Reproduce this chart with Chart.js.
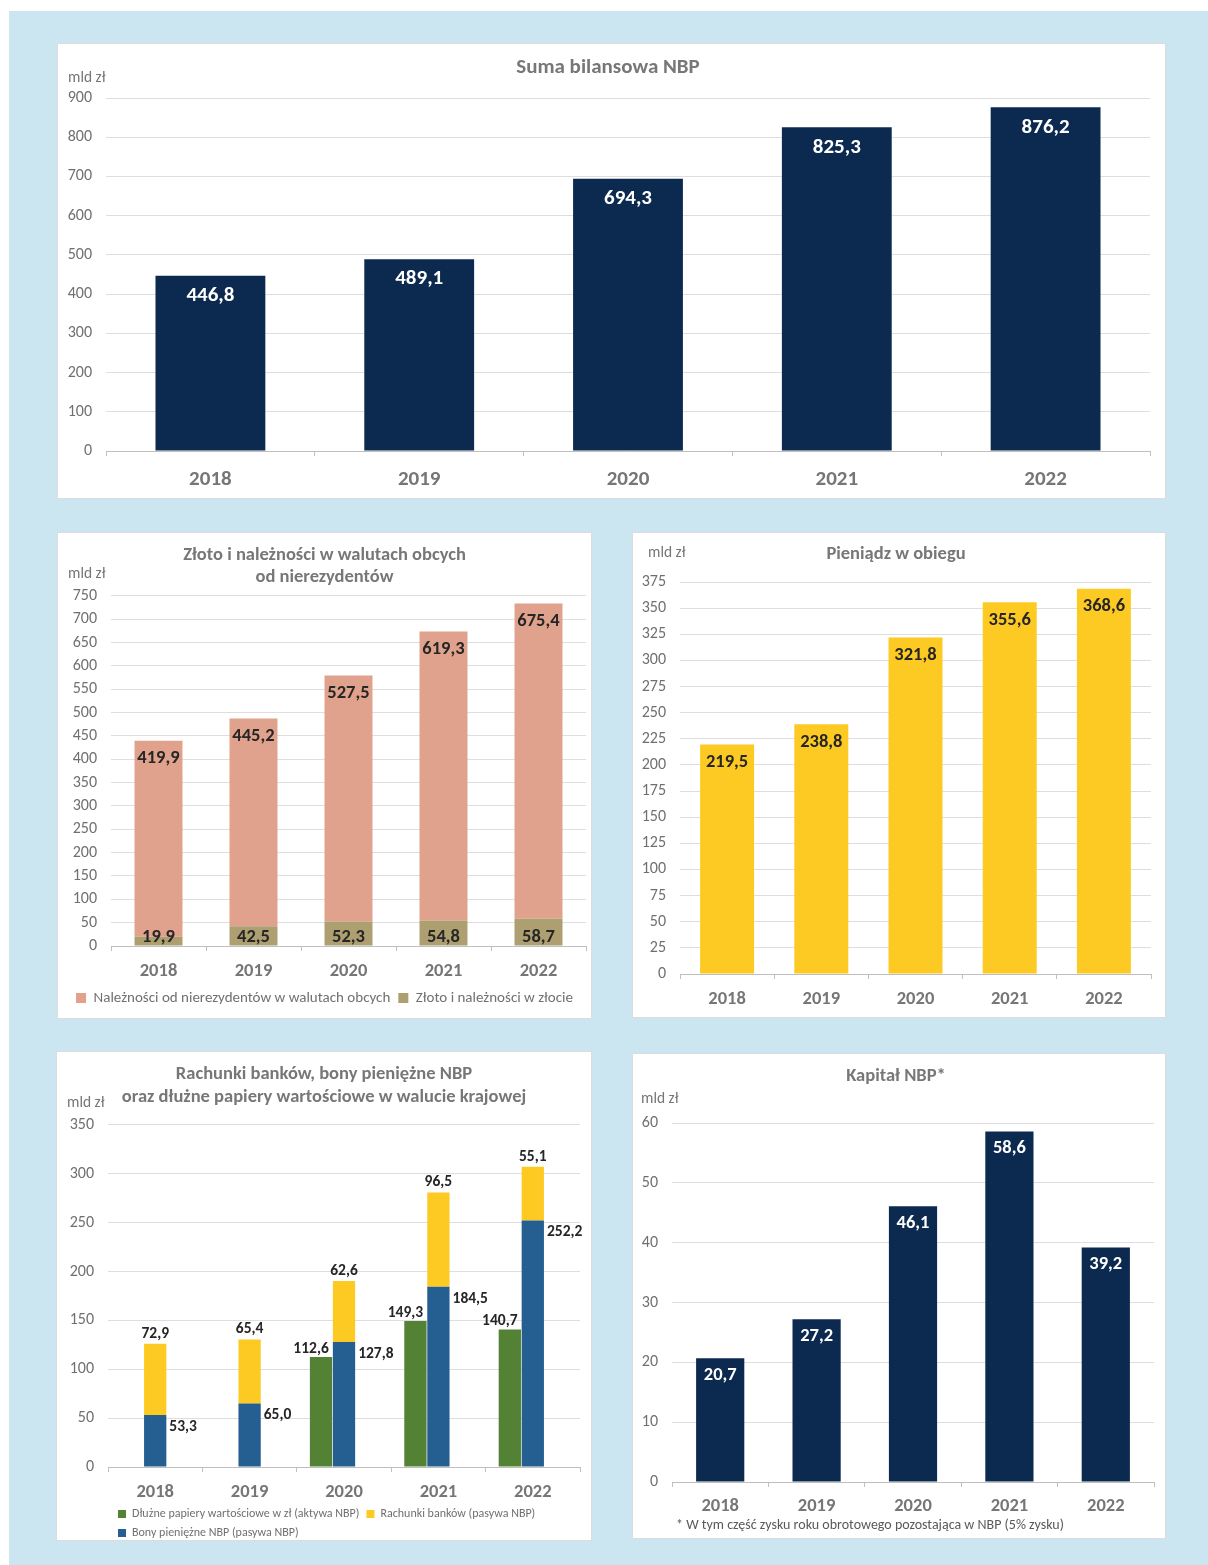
<!DOCTYPE html>
<html lang="pl">
<head>
<meta charset="utf-8">
<title>NBP – wybrane pozycje bilansu</title>
<script src="https://cdn.jsdelivr.net/npm/chart.js@4.4.1/dist/chart.umd.min.js"></script>
<style>
  html, body { margin: 0; padding: 0; background: #fff; }
  body { width: 1208px; height: 1565px; position: relative; overflow: hidden;
         font-family: Carlito, Lato, sans-serif; }
  #bg { position: absolute; left: 9px; top: 11px; right: 0; bottom: 0; background: #cbe6f0; }
  .panel { position: absolute; background: #fff; box-shadow: 0 0 0 1px #dcdcdc; }
  .panel canvas { position: absolute; left: 0; top: 0; }
  .unit { position: absolute; font-size: 15.5px; line-height: 18px; color: #767676; white-space: nowrap; }
  .note { position: absolute; font-size: 14px; line-height: 16px; color: #595959; white-space: nowrap; }
</style>
</head>
<body>
<div id="bg"></div>

<div class="panel" style="left:58px;top:44px;width:1107px;height:454px">
  <canvas id="c-total" width="1107" height="454"></canvas>
  <div class="unit" style="left:10px;top:24px">mld zł</div>
</div>

<div class="panel" style="left:58px;top:533px;width:533px;height:485px">
  <canvas id="c-foreign" width="533" height="485"></canvas>
  <div class="unit" style="left:10px;top:31px">mld zł</div>
</div>

<div class="panel" style="left:633px;top:533px;width:532px;height:484px">
  <canvas id="c-currency" width="532" height="484"></canvas>
  <div class="unit" style="left:15px;top:10px">mld zł</div>
</div>

<div class="panel" style="left:57px;top:1052px;width:534px;height:488px">
  <canvas id="c-banks" width="534" height="488"></canvas>
  <div class="unit" style="left:10px;top:41px">mld zł</div>
</div>

<div class="panel" style="left:633px;top:1054px;width:532px;height:484px">
  <canvas id="c-capital" width="532" height="484"></canvas>
  <div class="unit" style="left:8px;top:35px">mld zł</div>
  <div class="note" style="left:43px;top:463px">* W tym część zysku roku obrotowego pozostająca w NBP (5% zysku)</div>
</div>

<script>
// ── Data (mld zł) ─────────────────────────────────────────────
const YEARS = ['2018', '2019', '2020', '2021', '2022'];

// Suma bilansowa NBP
const balanceTotal = [446.8, 489.1, 694.3, 825.3, 876.2];

// Złoto i należności w walutach obcych od nierezydentów
const goldAndPln    = [19.9, 42.5, 52.3, 54.8, 58.7];
const foreignClaims = [419.9, 445.2, 527.5, 619.3, 675.4];

// Pieniądz w obiegu
const currency = [219.5, 238.8, 321.8, 355.6, 368.6];

// Rachunki banków, bony pieniężne NBP, dłużne papiery wartościowe
const debtSecurities = [null, null, 112.6, 149.3, 140.7];
const nbpBills       = [53.3, 65.0, 127.8, 184.5, 252.2];
const bankAccounts   = [72.9, 65.4, 62.6, 96.5, 55.1];

// Kapitał NBP
const capital = [20.7, 27.2, 46.1, 58.6, 39.2];

// ── Shared look ───────────────────────────────────────────────
const FONT = 'Carlito, Lato, sans-serif';
const NAVY = '#0c2a50';
const SALMON = '#e0a28c';
const KHAKI = '#ad9f70';
const YELLOW = '#fdca24';
const GREEN = '#548235';
const BLUE = '#255e91';
const DARK = '#262626';
const TICK = '#707070';
const TITLE = '#777777';
const GRID = '#dedede';
const AXIS = '#bfbfbf';

Chart.defaults.font.family = FONT;
Chart.defaults.color = TICK;

const fmt = (v) => v.toFixed(1).replace('.', ',');

/** Value labels drawn next to bars, one style entry per dataset. */
const barLabels = {
  id: 'barLabels',
  afterDatasetsDraw(chart, args, opts) {
    const { ctx } = chart;
    (opts.sets || []).forEach((s, di) => {
      if (!s) return;
      const values = chart.data.datasets[di].data;
      chart.getDatasetMeta(di).data.forEach((bar, i) => {
        const v = values[i];
        if (v == null) return;
        const p = bar.getProps(['x', 'y', 'base', 'width'], true);
        let x = p.x, y = p.y, align = 'center';
        if (s.pos === 'in') y = p.y + s.dy;
        else if (s.pos === 'base') y = p.base - s.dy;
        else if (s.pos === 'above') y = p.y - s.dy;
        else if (s.pos === 'right') { x = p.x + p.width / 2 + 3; align = 'left'; y = p.y + s.dy; }
        else if (s.pos === 'aboveLeft') { x = p.x - 10; y = p.y - s.dy; }
        ctx.save();
        ctx.font = `bold ${s.size}px ${FONT}`;
        ctx.fillStyle = s.color;
        ctx.textAlign = align;
        ctx.textBaseline = 'middle';
        ctx.fillText(fmt(v), x, y);
        ctx.restore();
      });
    });
  },
};

/** Moves the legend sideways (Excel-like left inset). */
const legendShift = {
  id: 'legendShift',
  afterLayout(chart, args, opts) {
    if (opts && opts.dx && chart.legend) {
      chart.legend.left += opts.dx;
      chart.legend.right += opts.dx;
    }
  },
};

function yAxis(max, step, width, stacked) {
  return {
    stacked: !!stacked,
    min: 0,
    max,
    ticks: { stepSize: step, color: TICK, font: { size: 16 }, padding: 14, callback: (v) => String(v) },
    grid: { color: GRID, drawTicks: false },
    border: { display: false },
    afterFit: (s) => { s.width = width; },
  };
}

function xAxis(size, height, pad, stacked) {
  return {
    stacked: !!stacked,
    ticks: { color: '#767676', font: { size, weight: 'bold' }, padding: pad, maxRotation: 0 },
    grid: { drawOnChartArea: false, offset: true, tickLength: 5, color: AXIS },
    border: { color: AXIS },
    afterFit: (s) => { s.height = height; },
  };
}

function title(text, size, lineHeight, top, bottom) {
  return { display: true, text, color: TITLE, font: { size, weight: 'bold', lineHeight }, padding: { top, bottom } };
}

const base = { responsive: false, animation: false };

// ── 1. Suma bilansowa NBP ─────────────────────────────────────
new Chart(document.getElementById('c-total'), {
  type: 'bar',
  data: {
    labels: YEARS,
    datasets: [{ label: 'Suma bilansowa NBP', data: balanceTotal, backgroundColor: NAVY,
                 barPercentage: 0.526, categoryPercentage: 1 }],
  },
  options: {
    ...base,
    layout: { padding: { left: 8, right: 15, top: 0, bottom: 0 } },
    plugins: {
      legend: { display: false },
      tooltip: { enabled: false },
      title: title('Suma bilansowa NBP', 21, 1.2, 11.4, 17.4),
      barLabels: { sets: [{ pos: 'in', dy: 20, size: 21, color: '#ffffff' }] },
    },
    scales: { x: xAxis(21, 47, 11.5), y: yAxis(900, 100, 40) },
  },
  plugins: [barLabels],
});

// ── 2. Złoto i należności w walutach obcych ───────────────────
new Chart(document.getElementById('c-foreign'), {
  type: 'bar',
  data: {
    labels: YEARS,
    datasets: [
      { label: 'Złoto i należności w złocie', data: goldAndPln, backgroundColor: KHAKI,
        barPercentage: 0.505, categoryPercentage: 1 },
      { label: 'Należności od nierezydentów w walutach obcych', data: foreignClaims, backgroundColor: SALMON,
        barPercentage: 0.505, categoryPercentage: 1 },
    ],
  },
  options: {
    ...base,
    layout: { padding: { left: 5, right: 5, top: 0, bottom: 2.5 } },
    plugins: {
      legend: {
        position: 'bottom',
        labels: { boxWidth: 10, boxHeight: 10, padding: 8, color: TICK, font: { size: 15 },
                  sort: (a, b) => b.datasetIndex - a.datasetIndex },
      },
      tooltip: { enabled: false },
      title: title(['Złoto i należności w walutach obcych', 'od nierezydentów'], 18.5, 1.189, 11, 8),
      barLabels: { sets: [
        { pos: 'base', dy: 8, size: 18.5, color: DARK },
        { pos: 'in', dy: 18, size: 18.5, color: DARK },
      ] },
    },
    scales: { x: xAxis(18.5, 36.5, 9.75, true), y: yAxis(750, 50, 48, true) },
  },
  plugins: [barLabels],
});

// ── 3. Pieniądz w obiegu ──────────────────────────────────────
new Chart(document.getElementById('c-currency'), {
  type: 'bar',
  data: {
    labels: YEARS,
    datasets: [{ label: 'Pieniądz w obiegu', data: currency, backgroundColor: YELLOW,
                 barPercentage: 0.573, categoryPercentage: 1 }],
  },
  options: {
    ...base,
    layout: { padding: { left: 8, right: 14, top: 0, bottom: 0 } },
    plugins: {
      legend: { display: false },
      tooltip: { enabled: false },
      title: title('Pieniądz w obiegu', 18.5, 1.2, 9.9, 16.9),
      barLabels: { sets: [{ pos: 'in', dy: 18, size: 18.5, color: DARK }] },
    },
    scales: { x: xAxis(18.5, 43, 9.75), y: yAxis(375, 25, 39) },
  },
  plugins: [barLabels],
});

// ── 4. Rachunki banków, bony pieniężne, dłużne papiery ────────
const LEGEND_ORDER_BANKS = [0, 2, 1];
new Chart(document.getElementById('c-banks'), {
  type: 'bar',
  data: {
    labels: YEARS,
    datasets: [
      { label: 'Dłużne papiery wartościowe w zł (aktywa NBP)', data: debtSecurities, backgroundColor: GREEN, stack: 'debt' },
      { label: 'Bony pieniężne NBP (pasywa NBP)', data: nbpBills, backgroundColor: BLUE, stack: 'liab' },
      { label: 'Rachunki banków (pasywa NBP)', data: bankAccounts, backgroundColor: YELLOW, stack: 'liab' },
      // empty slot so that the liabilities column stays centred on the year
      { label: '', data: [null, null, null, null, null], backgroundColor: 'rgba(0,0,0,0)', stack: 'spacer' },
    ].map((d) => ({ ...d, barPercentage: 0.97, categoryPercentage: 0.73 })),
  },
  options: {
    ...base,
    layout: { padding: { left: 11, right: 11, top: 0, bottom: 0 } },
    plugins: {
      legend: {
        position: 'bottom',
        align: 'start',
        maxHeight: 39,
        labels: {
          boxWidth: 8, boxHeight: 8, padding: 7, color: TICK, font: { size: 12 },
          filter: (item) => item.text !== '',
          sort: (a, b) => LEGEND_ORDER_BANKS.indexOf(a.datasetIndex) - LEGEND_ORDER_BANKS.indexOf(b.datasetIndex),
        },
      },
      legendShift: { dx: 43 },
      tooltip: { enabled: false },
      title: title(['Rachunki banków, bony pieniężne NBP', 'oraz dłużne papiery wartościowe w walucie krajowej'], 18.5, 1.243, 10.5, 16.5),
      barLabels: { sets: [
        { pos: 'aboveLeft', dy: 8, size: 15.5, color: DARK },
        { pos: 'right', dy: 12, size: 15.5, color: DARK },
        { pos: 'above', dy: 10, size: 15.5, color: DARK },
      ] },
    },
    scales: { x: xAxis(18.5, 34, 9.75, true), y: yAxis(350, 50, 40, true) },
  },
  plugins: [barLabels, legendShift],
});

// ── 5. Kapitał NBP ────────────────────────────────────────────
new Chart(document.getElementById('c-capital'), {
  type: 'bar',
  data: {
    labels: YEARS,
    datasets: [{ label: 'Kapitał NBP', data: capital, backgroundColor: NAVY,
                 barPercentage: 0.5, categoryPercentage: 1 }],
  },
  options: {
    ...base,
    layout: { padding: { left: 5, right: 11, top: 0, bottom: 0 } },
    plugins: {
      legend: { display: false },
      tooltip: { enabled: false },
      title: title('Kapitał NBP*', 18.5, 1.2, 10.9, 35.9),
      barLabels: { sets: [{ pos: 'in', dy: 17, size: 18.5, color: '#ffffff' }] },
    },
    scales: { x: xAxis(18.5, 56, 8.75), y: yAxis(60, 10, 34) },
  },
  plugins: [barLabels],
});
</script>
</body>
</html>
